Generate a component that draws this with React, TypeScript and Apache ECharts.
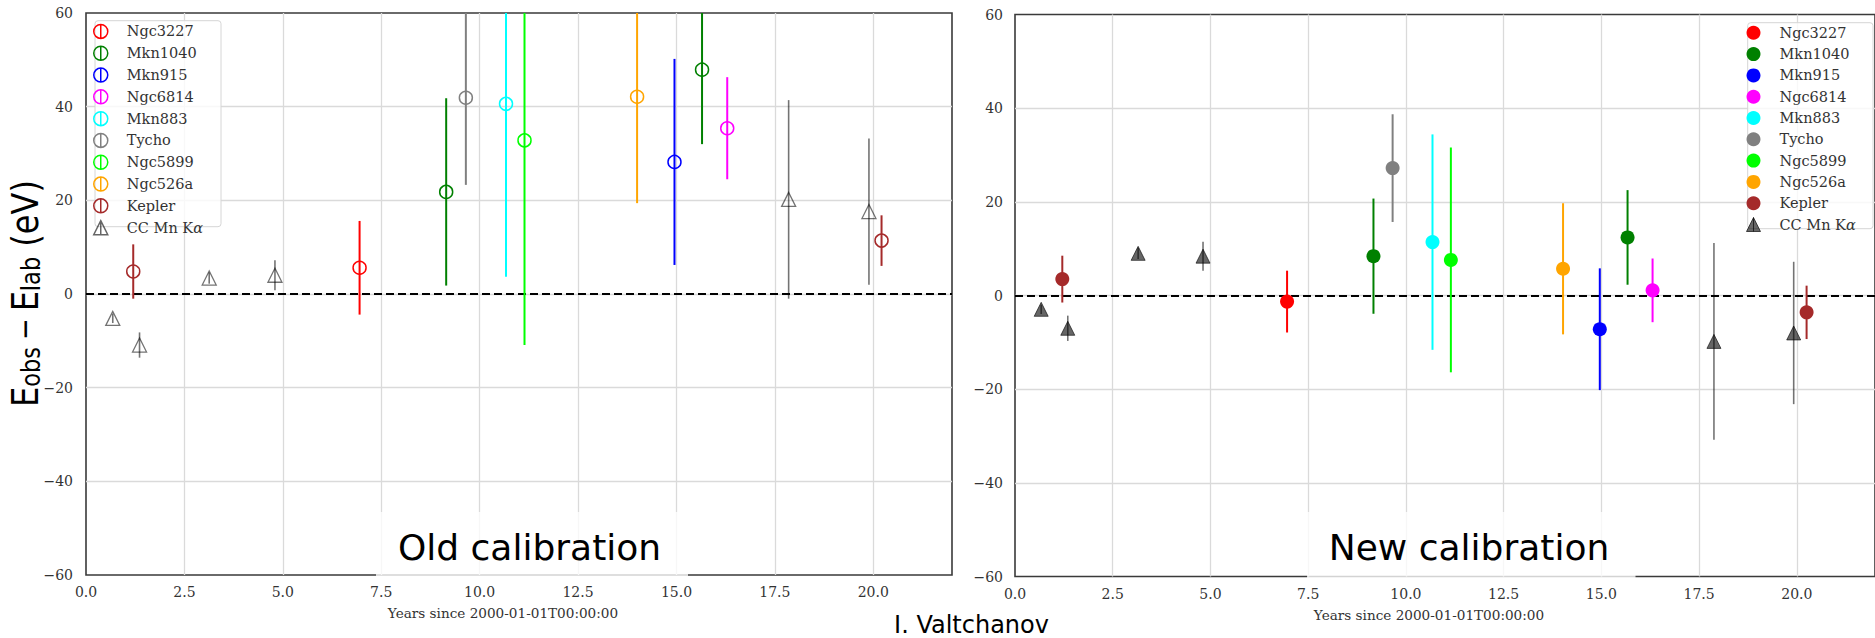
import React, { useEffect, useRef } from 'react';
import * as echarts from 'echarts';

// ---- series names & colours ----
const names = ['Ngc3227', 'Mkn1040', 'Mkn915', 'Ngc6814', 'Mkn883', 'Tycho', 'Ngc5899', 'Ngc526a', 'Kepler', 'CC Mn Kα'];
const colors = ['#ff0000', '#008000', '#0000ff', '#ff00ff', '#00ffff', '#808080', '#00ff00', '#ffa500', '#a52a2a', '#404040'];

// ---- Old calibration: [years, E_obs - E_lab, error] ----
const oldNgc3227 = [[6.95, 5.6, 10.0]];
const oldMkn1040 = [[9.15, 21.8, 20.0], [15.65, 47.9, 15.9]];
const oldMkn915 = [[14.95, 28.2, 22.0]];
const oldNgc6814 = [[16.29, 35.4, 10.9]];
const oldMkn883 = [[10.67, 40.6, 36.9]];
const oldTycho = [[9.65, 41.9, 18.6]];
const oldNgc5899 = [[11.14, 32.8, 43.7]];
const oldNgc526a = [[14.0, 42.1, 22.7]];
const oldKepler = [[1.2, 4.8, 5.8], [20.21, 11.4, 5.4]];
const oldCC = [[0.68, -5.2, 1.0], [1.36, -10.9, 2.7], [3.13, 3.4, 1.2], [4.8, 4.0, 3.2], [17.85, 20.2, 21.2], [19.89, 17.6, 15.6]];

// ---- New calibration ----
const newNgc3227 = [[6.96, -1.3, 6.6]];
const newMkn1040 = [[9.17, 8.4, 12.3], [15.67, 12.4, 10.1]];
const newMkn915 = [[14.96, -7.2, 13.0]];
const newNgc6814 = [[16.31, 1.1, 6.8]];
const newMkn883 = [[10.68, 11.4, 23.0]];
const newTycho = [[9.66, 27.2, 11.5]];
const newNgc5899 = [[11.15, 7.6, 24.0]];
const newNgc526a = [[14.02, 5.7, 14.0]];
const newKepler = [[1.21, 3.5, 5.0], [20.25, -3.6, 5.7]];
const newCC = [[0.67, -2.95, 1.0], [1.35, -7.0, 2.7], [3.15, 9.0, 1.2], [4.81, 8.4, 3.1], [17.88, -9.8, 21.0], [19.92, -8.0, 15.2]];

const oldData = [oldNgc3227, oldMkn1040, oldMkn915, oldNgc6814, oldMkn883, oldTycho, oldNgc5899, oldNgc526a, oldKepler, oldCC];
const newData = [newNgc3227, newMkn1040, newMkn915, newNgc6814, newMkn883, newTycho, newNgc5899, newNgc526a, newKepler, newCC];

// ---- axes ----
const xMin = 0, xMax = 22, xStep = 2.5;
const yMin = -60, yMax = 60, yStep = 20;
const xTitle = 'Years since 2000-01-01T00:00:00';

const SERIF = 'DejaVu Serif';
const SANS = 'DejaVu Sans';
const CC_LINE = 'rgba(0,0,0,0.55)';
const CC_FILL = 'rgba(0,0,0,0.6)';

const circIcon = 'path://M0,7A7,7,0,1,0,14,7A7,7,0,1,0,0,7ZM7,0L7,14';
const triIcon = 'path://M7,0L14,14L0,14ZM7,0L7,14';

function makeSeries(idx: number, data: number[][], g: number, filled: boolean) {
  const name = names[idx];
  const color = colors[idx];
  const isTri = idx === 9;
  const s: any = {
    type: 'custom',
    name,
    xAxisIndex: g,
    yAxisIndex: g,
    data,
    encode: { x: 0, y: 1 },
    z: 3,
    renderItem: (params: any, api: any) => {
      const x = api.value(0), y = api.value(1), e = api.value(2);
      const c = api.coord([x, y]);
      const t = api.coord([x, y + e]);
      const b = api.coord([x, y - e]);
      const cs = params.coordSys;
      const top = Math.max(t[1], cs.y);
      const bot = Math.min(b[1], cs.y + cs.height);
      const children: any[] = [
        {
          type: 'line',
          shape: { x1: c[0], y1: top, x2: c[0], y2: bot },
          style: { stroke: isTri ? CC_LINE : color, lineWidth: isTri ? 1.6 : 2 },
        },
      ];
      if (isTri) {
        const h = 7;
        children.push({
          type: 'polygon',
          shape: { points: [[c[0], c[1] - h], [c[0] - h, c[1] + h], [c[0] + h, c[1] + h]] },
          style: filled
            ? { fill: CC_FILL, stroke: 'rgba(0,0,0,0.6)', lineWidth: 1 }
            : { fill: 'none', stroke: 'rgba(0,0,0,0.55)', lineWidth: 1.3 },
        });
      } else {
        children.push({
          type: 'circle',
          shape: { cx: c[0], cy: c[1], r: filled ? 7 : 6.5 },
          style: filled ? { fill: color } : { fill: 'none', stroke: color, lineWidth: 1.5 },
        });
      }
      return { type: 'group', children };
    },
  };
  if (idx === 0) {
    s.markLine = {
      silent: true,
      symbol: ['none', 'none'],
      label: { show: false },
      lineStyle: { color: '#000', width: 2, type: [8, 4] },
      data: [{ yAxis: 0 }],
      z: 2,
    };
  }
  return s;
}

const isStep = (v: number, step: number) => Math.abs(v / step - Math.round(v / step)) < 1e-6;

function makeX(g: number) {
  return {
    gridIndex: g,
    type: 'value',
    min: xMin,
    max: xMax,
    interval: xStep,
    name: xTitle,
    nameLocation: 'middle',
    nameGap: 31,
    nameTextStyle: { fontFamily: SERIF, fontSize: 13.6, color: '#333', padding: [0, 32, 0, 0] },
    axisLine: { show: false },
    axisTick: { show: false },
    axisLabel: {
      fontFamily: SERIF,
      fontSize: 14,
      color: '#333',
      margin: 10,
      showMaxLabel: false,
      formatter: (v: number) => (isStep(v, xStep) ? v.toFixed(1) : ''),
    },
    splitLine: { show: true, showMinLine: false, showMaxLine: false, lineStyle: { color: '#dadada', width: 1.3 } },
  };
}

function makeY(g: number, margin: number) {
  return {
    gridIndex: g,
    type: 'value',
    min: yMin,
    max: yMax,
    interval: yStep,
    axisLine: { show: false },
    axisTick: { show: false },
    axisLabel: {
      fontFamily: SERIF,
      fontSize: 14,
      color: '#333',
      margin,
      formatter: (v: number) => (v < 0 ? '\u2212' + Math.abs(v) : String(v)),
    },
    splitLine: { show: true, showMinLine: false, showMaxLine: false, lineStyle: { color: '#dadada', width: 1.3 } },
  };
}

const legendText = {
  fontFamily: SERIF,
  fontSize: 14.5,
  color: '#333',
  rich: { i: { fontFamily: SERIF, fontStyle: 'italic', fontSize: 14.5, color: '#333' } },
};
const legendFormatter = (n: string) => (n === 'CC Mn Kα' ? 'CC Mn K{i|α}' : n);

export default function App() {
  const ref = useRef<HTMLDivElement>(null);
  useEffect(() => {
    if (!ref.current) return;
    const chart = echarts.init(ref.current, undefined, { renderer: 'svg' });
    const series: any[] = [];
    oldData.forEach((d, i) => series.push(makeSeries(i, d, 0, false)));
    newData.forEach((d, i) => series.push(makeSeries(i, d, 1, true)));

    const leftLegendData = names.map((n, i) => ({
      name: n,
      icon: i === 9 ? triIcon : circIcon,
      itemStyle: { color: 'rgba(0,0,0,0)', borderColor: i === 9 ? 'rgba(0,0,0,0.6)' : colors[i], borderWidth: 1.5 },
    }));
    const rightLegendData = names.map((n, i) => ({
      name: n,
      icon: i === 9 ? triIcon : 'circle',
      itemStyle: i === 9
        ? { color: CC_FILL, borderColor: 'rgba(0,0,0,0.65)', borderWidth: 1 }
        : { color: colors[i], borderWidth: 0 },
    }));

    const option: any = {
      animation: false,
      backgroundColor: '#fff',
      grid: [
        { left: 86, top: 13, width: 866, height: 562, show: true, borderColor: '#3a3a3a', borderWidth: 1.6, backgroundColor: 'transparent' },
        { left: 1015, top: 14.5, width: 865, height: 562, show: true, borderColor: '#3a3a3a', borderWidth: 1.6, backgroundColor: 'transparent' },
      ],
      xAxis: [makeX(0), makeX(1)],
      yAxis: [makeY(0, 13), makeY(1, 12)],
      legend: [
        {
          orient: 'vertical', left: 93, top: 23.7, padding: 0, itemGap: 6.3, itemWidth: 42, itemHeight: 14,
          selectedMode: false, textStyle: legendText, formatter: legendFormatter, data: leftLegendData, z: 6,
        },
        {
          orient: 'vertical', left: 1746, top: 25.3, padding: 0, itemGap: 6.3, itemWidth: 42, itemHeight: 14,
          selectedMode: false, textStyle: legendText, formatter: legendFormatter, data: rightLegendData, z: 6,
        },
      ],
      graphic: [
        { type: 'rect', z: 5, shape: { x: 95, y: 20.7, width: 126, height: 206, r: 3 }, style: { fill: 'rgba(255,255,255,0.8)', stroke: '#d6d6d6', lineWidth: 1 } },
        { type: 'rect', z: 5, shape: { x: 1747.7, y: 22.7, width: 125.3, height: 206, r: 3 }, style: { fill: 'rgba(255,255,255,0.8)', stroke: '#d6d6d6', lineWidth: 1 } },
        { type: 'rect', z: 20, shape: { x: 376, y: 512, width: 312, height: 66 }, style: { fill: 'rgba(255,255,255,0.78)' } },
        { type: 'text', z: 21, x: 529.5, y: 547.5, style: { text: 'Old calibration', fontFamily: SANS, fontSize: 36, fill: '#000', align: 'center', verticalAlign: 'middle' } },
        { type: 'rect', z: 20, shape: { x: 1307, y: 512, width: 328.5, height: 66 }, style: { fill: 'rgba(255,255,255,0.78)' } },
        { type: 'text', z: 21, x: 1469, y: 547.5, style: { text: 'New calibration', fontFamily: SANS, fontSize: 36, fill: '#000', align: 'center', verticalAlign: 'middle' } },
        { type: 'text', z: 21, x: 971.5, y: 624.7, style: { text: 'I. Valtchanov', fontFamily: SANS, fontSize: 24, fill: '#000', align: 'center', verticalAlign: 'middle' } },
        {
          type: 'text', z: 21, x: 25, y: 293.5, rotation: Math.PI / 2, scaleX: 0.865,
          style: {
            text: '{a|E}{s|obs}{m|\u2212}{a|E}{s|lab}{a| (eV)}',
            align: 'center', verticalAlign: 'middle', fill: '#000',
            rich: {
              a: { fontFamily: SANS, fontSize: 37, lineHeight: 37, fill: '#000' },
              s: { fontFamily: SANS, fontSize: 26, lineHeight: 22, verticalAlign: 'bottom', fill: '#000' },
              m: { fontFamily: SANS, fontSize: 30, lineHeight: 30, padding: [0, 8, 0, 8], fill: '#000' },
            },
          },
        },
      ],
      series,
    };
    chart.setOption(option);
    return () => chart.dispose();
  }, []);
  return <div ref={ref} style={{ position: 'absolute', left: 0, top: 0, width: 1875, height: 638 }} />;
}
